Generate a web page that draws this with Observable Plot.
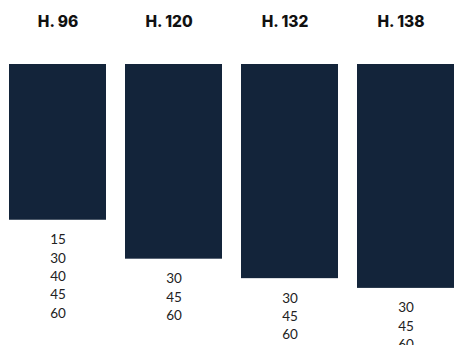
<!DOCTYPE html>
<html>
<head>
<meta charset="utf-8">
<script src="https://cdn.jsdelivr.net/npm/d3@7"></script>
<script src="https://cdn.jsdelivr.net/npm/@observablehq/plot@0.6"></script>
<style>
  html, body { margin: 0; padding: 0; background: #fff; }
  #chart { width: 454px; height: 345px; overflow: hidden; }
</style>
</head>
<body>
<div id="chart"></div>
<script>
const categories = ["H. 96", "H. 120", "H. 132", "H. 138"];
const heights = [96, 120, 132, 138];
const sizeLists = [
  ["15", "30", "40", "45", "60"],
  ["30", "45", "60"],
  ["30", "45", "60"],
  ["30", "45", "60"]
];

const data = categories.map((c, i) => ({
  name: c,
  h: heights[i],
  sizes: sizeLists[i].join("\n")
}));

const titleStyle = {
  x: "name", text: "name", frameAnchor: "top", dy: 21.5, lineAnchor: "middle",
  fontFamily: "Inter", fontWeight: 800, fontSize: 15.5, fill: "#111"
};

const chart = Plot.plot({
  width: 454,
  height: 345,
  marginTop: 0,
  marginBottom: 0,
  marginLeft: 0,
  marginRight: 0,
  style: { background: "#fff", overflow: "visible" },
  x: { domain: categories, range: [7, 456], paddingInner: 0.162, paddingOuter: 0, axis: null },
  y: { domain: [0, 173.2], range: [64, 345], axis: null },
  marks: [
    Plot.barY(data, { x: "name", y: "h", fill: "#13243a" }),
    Plot.text(data, { ...titleStyle, filter: (d, i) => i === 0 }),
    Plot.text(data, { ...titleStyle, filter: (d, i) => i > 0, dx: -5 }),
    Plot.text(data, {
      x: "name", y: "h", text: "sizes", lineAnchor: "top", dy: 11,
      fontFamily: "Lato", fontSize: 13.5, lineHeight: 1.36, fill: "#222"
    })
  ]
});
document.getElementById("chart").appendChild(chart);
</script>
</body>
</html>
